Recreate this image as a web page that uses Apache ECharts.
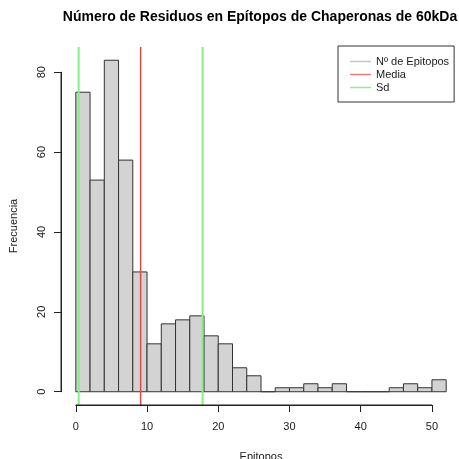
<!DOCTYPE html>
<html>
<head>
<meta charset="utf-8">
<script src="https://cdn.jsdelivr.net/npm/echarts@6/dist/echarts.min.js"></script>
<style>
  html, body { margin: 0; padding: 0; background: #ffffff; }
  #chart { width: 459px; height: 459px; }
</style>
</head>
<body>
<div id="chart"></div>
<script>
// Histogram of epitope residue counts (bins of width 2)
const binStarts = [0, 2, 4, 6, 8, 10, 12, 14, 16, 18, 20, 22, 24, 26, 28, 30, 32, 34, 36, 38, 40, 42, 44, 46, 48, 50];
const binWidth = 2;
const counts = [75, 53, 83, 58, 30, 12, 17, 18, 19, 14, 12, 6, 4, 0, 1, 1, 2, 1, 2, 0, 0, 0, 1, 2, 1, 3];
const meanValue = 9.1;
const sdValue = 8.7;
const xTicks = [0, 10, 20, 30, 40, 50];
const yTicks = [0, 20, 40, 60, 80];

const titleText = 'Número de Residuos en Epítopos de Chaperonas de 60kDa';
const xTitle = 'Epitopos';
const yTitle = 'Frecuencia';
const seriesNames = ['Nº de Epitopos', 'Media', 'Sd'];

// Plot region spans the data range padded by 4% on each side
const xLo = binStarts[0], xHi = binStarts[binStarts.length - 1] + binWidth;
const yLo = 0, yHi = Math.max(...counts);
const xMin = xLo - 0.04 * (xHi - xLo), xMax = xHi + 0.04 * (xHi - xLo);
const yMin = yLo - 0.04 * (yHi - yLo), yMax = yHi + 0.04 * (yHi - yLo);

const plotLeft = 61, plotTop = 47, plotW = 400, plotH = 358;
const pxX = plotW / (xMax - xMin), pxY = plotH / (yMax - yMin);
const xTickFirst = xTicks[0], xTickLast = xTicks[xTicks.length - 1];
const yTickFirst = yTicks[0], yTickLast = yTicks[yTicks.length - 1];

const fontFam = '"Liberation Sans", Arial, sans-serif';
const axisColor = '#222222';
const textColor = '#1a1a1a';

const chart = echarts.init(document.getElementById('chart'), null, { renderer: 'canvas' });

const histData = binStarts.map((s, i) => [s, s + binWidth, counts[i]]);

// Axis spines from first to last tick, placed through each axis grid's scales
const axisSpineStyle = { color: axisColor, width: 1 };
const xSpine = {
  type: 'line', xAxisIndex: 1, yAxisIndex: 1, symbol: 'none', silent: true, clip: false, z: 6,
  lineStyle: axisSpineStyle, itemStyle: { color: axisColor },
  data: [[xTickFirst, yMin], [xTickLast, yMin]]
};
const ySpine = {
  type: 'line', xAxisIndex: 2, yAxisIndex: 2, symbol: 'none', silent: true, clip: false, z: 6,
  lineStyle: axisSpineStyle, itemStyle: { color: axisColor },
  data: [[xMin, yTickFirst], [xMin, yTickLast]]
};

const option = {
  animation: false,
  backgroundColor: '#ffffff',
  title: {
    text: titleText,
    left: plotLeft + plotW / 2 - 6,
    top: 5,
    textAlign: 'center',
    textStyle: { fontFamily: fontFam, fontSize: 14, fontWeight: 'bold', color: '#000000' }
  },
  legend: {
    orient: 'vertical',
    left: 338,
    top: 46,
    padding: [9, 5, 8, 12],
    itemGap: 0,
    itemWidth: 21,
    itemHeight: 1.5,
    itemTextGap: 14,
    borderColor: '#333333',
    borderWidth: 1,
    backgroundColor: '#ffffff',
    selectedMode: false,
    textStyle: { fontFamily: fontFam, fontSize: 11, color: textColor, lineHeight: 13 },
    data: [
      { name: seriesNames[0], icon: 'rect', itemStyle: { color: '#c4c4c4' } },
      { name: seriesNames[1], icon: 'rect', itemStyle: { color: '#f07a7a' } },
      { name: seriesNames[2], icon: 'rect', itemStyle: { color: '#8cf08c' } }
    ]
  },
  grid: [
    // 0: plot region
    { left: plotLeft, top: plotTop, width: plotW, height: plotH, containLabel: false, outerBoundsMode: 'none' },
    // 1: x axis drawn from first to last tick
    { left: plotLeft + (xTickFirst - xMin) * pxX, width: (xTickLast - xTickFirst) * pxX,
      top: plotTop, height: plotH, containLabel: false, outerBoundsMode: 'none' },
    // 2: y axis drawn from first to last tick
    { left: plotLeft, width: plotW,
      top: plotTop + (yMax - yTickLast) * pxY, height: (yTickLast - yTickFirst) * pxY,
      containLabel: false, outerBoundsMode: 'none' }
  ],
  xAxis: [
    { gridIndex: 0, type: 'value', min: xMin, max: xMax,
      axisLine: { show: false, onZero: false }, axisTick: { show: false }, axisLabel: { show: false }, splitLine: { show: false },
      name: xTitle, nameLocation: 'middle', nameGap: 46,
      nameTextStyle: { fontFamily: fontFam, fontSize: 11, color: textColor } },
    { gridIndex: 1, type: 'value', min: xTickFirst, max: xTickLast, interval: 10, position: 'bottom',
      axisLine: { show: true, onZero: false, lineStyle: { color: axisColor, width: 1 } },
      axisTick: { show: true, length: 7, lineStyle: { color: axisColor, width: 1 } },
      axisLabel: { show: true, margin: 16, fontFamily: fontFam, fontSize: 11, color: textColor },
      splitLine: { show: false } },
    { gridIndex: 2, type: 'value', min: xMin, max: xMax, show: false, axisLine: { onZero: false } }
  ],
  yAxis: [
    { gridIndex: 0, type: 'value', min: yMin, max: yMax,
      axisLine: { show: false, onZero: false }, axisTick: { show: false }, axisLabel: { show: false }, splitLine: { show: false },
      name: yTitle, nameLocation: 'middle', nameGap: 42, nameRotate: 90,
      nameTextStyle: { fontFamily: fontFam, fontSize: 11, color: textColor } },
    { gridIndex: 1, type: 'value', min: yMin, max: yMax, show: false, axisLine: { onZero: false } },
    { gridIndex: 2, type: 'value', min: yTickFirst, max: yTickLast, interval: 20, position: 'left',
      axisLine: { show: true, onZero: false, lineStyle: { color: axisColor, width: 1 } },
      axisTick: { show: true, length: 7, lineStyle: { color: axisColor, width: 1 } },
      axisLabel: { show: true, rotate: 90, margin: 14, fontFamily: fontFam, fontSize: 11, color: textColor },
      splitLine: { show: false } }
  ],
  series: [
    {
      name: seriesNames[0],
      type: 'custom',
      xAxisIndex: 0, yAxisIndex: 0,
      itemStyle: { color: '#c4c4c4' },
      encode: { x: [0, 1], y: 2 },
      data: histData,
      z: 2,
      renderItem: function (params, api) {
        const topLeft = api.coord([api.value(0), api.value(2)]);
        const bottomRight = api.coord([api.value(1), 0]);
        return {
          type: 'rect',
          shape: { x: topLeft[0], y: topLeft[1], width: bottomRight[0] - topLeft[0], height: bottomRight[1] - topLeft[1] },
          style: { fill: '#d3d3d3', stroke: '#333333', lineWidth: 1 }
        };
      }
    },
    {
      name: seriesNames[1], type: 'line', xAxisIndex: 0, yAxisIndex: 0, z: 5,
      symbol: 'none', silent: true,
      itemStyle: { color: '#e04848' },
      lineStyle: { color: '#e04848', width: 1.5 },
      data: [[meanValue, yMin], [meanValue, yMax]]
    },
    {
      name: seriesNames[2], type: 'line', xAxisIndex: 0, yAxisIndex: 0, z: 5,
      symbol: 'none', silent: true,
      itemStyle: { color: '#86f086' },
      lineStyle: { color: '#86f086', width: 2 },
      data: [[meanValue - sdValue, yMin], [meanValue - sdValue, yMax]]
    },
    {
      name: seriesNames[2], type: 'line', xAxisIndex: 0, yAxisIndex: 0, z: 5,
      symbol: 'none', silent: true,
      itemStyle: { color: '#86f086' },
      lineStyle: { color: '#86f086', width: 2 },
      data: [[meanValue + sdValue, yMin], [meanValue + sdValue, yMax]]
    },
    xSpine,
    ySpine
  ]
};

chart.setOption(option);
</script>
</body>
</html>
